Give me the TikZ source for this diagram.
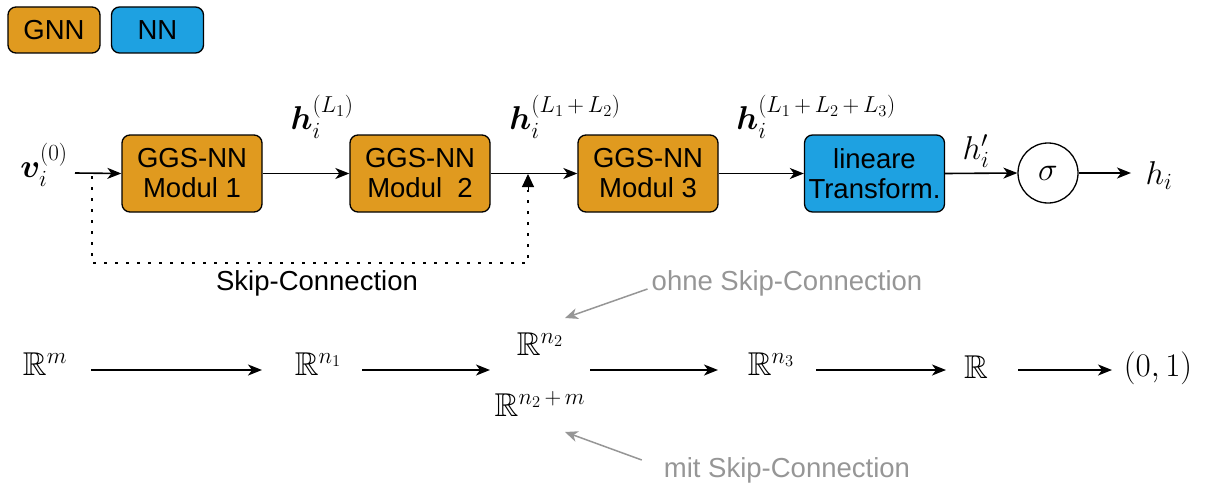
\RequirePackage{fix-cm}
\documentclass[tikz,border=0pt]{standalone}
\usepackage{amsmath,amssymb,bm}
\usepackage{fontspec}
\setsansfont{Liberation Sans}
\usetikzlibrary{arrows.meta}

\definecolor{gnnorange}{RGB}{224,154,31}
\definecolor{nnblue}{RGB}{30,161,225}
\definecolor{notegray}{RGB}{150,150,150}

% binary plus with visible spacing inside superscripts
\newcommand{\splus}{\mskip3mu+\mskip3mu}

\tikzset{
  block/.style={draw=black, line width=1.3pt, rounded corners=8pt,
    minimum width=140pt, minimum height=77pt, align=center, inner sep=0pt,
    font=\sffamily\fontsize{27.5}{30}\selectfont},
  gnnbox/.style={block, fill=gnnorange},
  nnbox/.style={block, fill=nnblue},
  legendbox/.style={minimum width=92pt, minimum height=46pt},
  mathlbl/.style={inner sep=0pt, font=\fontsize{33}{37}\selectfont},
  txt/.style={inner sep=0pt, font=\sffamily\fontsize{27.5}{30}\selectfont},
  note/.style={txt, text=notegray},
  arr/.style={line width=1.6pt, -{Stealth[length=14pt,width=11pt,inset=4pt]}},
  notearr/.style={draw=notegray, line width=1.5pt, -{Stealth[length=13pt,width=11pt,inset=4pt]}},
  skipline/.style={line width=2.6pt, dash pattern=on 2.6pt off 8.4pt},
}

\begin{document}
\begin{tikzpicture}[x=1pt, y=-1pt]
\useasboundingbox (0,0) rectangle (1206,487);

% legend
\node[gnnbox, legendbox] (lgnn) at (54,30) {GNN};
\node[nnbox, legendbox] (lnn) at (157.5,30) {NN};

% processing chain
\node[gnnbox] (m1) at (192,173.5) {GGS-NN\\Modul 1};
\node[gnnbox] (m2) at (420,173.5) {GGS-NN\\Modul\ \ 2};
\node[gnnbox] (m3) at (648,173.5) {GGS-NN\\Modul 3};
\node[nnbox] (lt) at (874.5,173.5) {lineare\\Transform.};
\node[draw=black, line width=1.3pt, circle, minimum size=60pt, inner sep=0pt,
      font=\fontsize{33}{37}\selectfont] (sig) at (1048,173) {$\sigma$};

\node[mathlbl] (v0) at (44,165) {$\bm{v}_i^{(0)}$};
\node[mathlbl] (h1) at (322,117) {$\bm{h}_i^{(L_1)}$};
\node[mathlbl] (h2) at (565,117) {$\bm{h}_i^{(L_1\splus L_2)}$};
\node[mathlbl] (h3) at (816,117) {$\bm{h}_i^{(L_1\splus L_2\splus L_3)}$};
\node[mathlbl] (hp) at (976,151) {$h_i'$};
\node[mathlbl] (hout) at (1159,176) {$h_i$};

\coordinate (cin) at (75,173);
\coordinate (cout) at (1131,173);

\draw[arr] (cin) -- (m1.west);
\draw[arr] (m1.east) -- (m2.west);
\draw[arr] (m2.east) -- (m3.west);
\draw[arr] (m3.east) -- (lt.west);
\draw[arr] (lt.east) -- (sig.west);
\draw[arr] (sig.east) -- (cout);

% skip connection
\coordinate (sks) at (92,176);
\coordinate (skb) at (92,263);
\coordinate (ske) at (528,263);
\coordinate (skt) at (528,190);
\coordinate (skh) at (528,174);
\draw[skipline] (sks) -- (skb) -- (ske) -- (skt);
\draw[line width=1pt, -{Triangle[length=13pt,width=12pt]}] (skt) -- (skh);
\node[txt] (skip) at (317,283) {Skip-Connection};

% dimensions row
\node[mathlbl] (rm) at (45,364) {$\mathbb{R}^m$};
\node[mathlbl] (rn1) at (318,364) {$\mathbb{R}^{n_1}$};
\node[mathlbl] (rn2) at (540,344) {$\mathbb{R}^{n_2}$};
\node[mathlbl] (rn2m) at (540,404) {$\mathbb{R}^{n_2\splus m}$};
\node[mathlbl] (rn3) at (771,364) {$\mathbb{R}^{n_3}$};
\node[mathlbl] (r) at (976,367) {$\mathbb{R}$};
\node[mathlbl] (r01) at (1158,368) {$(0,1)$};

\coordinate (a1s) at (91,370);  \coordinate (a1e) at (262,370);
\coordinate (a2s) at (362,370); \coordinate (a2e) at (490,370);
\coordinate (a3s) at (590,370); \coordinate (a3e) at (718,370);
\coordinate (a4s) at (816,370); \coordinate (a4e) at (946,370);
\coordinate (a5s) at (1018,370); \coordinate (a5e) at (1112,370);
\draw[arr] (a1s) -- (a1e);
\draw[arr] (a2s) -- (a2e);
\draw[arr] (a3s) -- (a3e);
\draw[arr] (a4s) -- (a4e);
\draw[arr] (a5s) -- (a5e);

% notes on the two variants
\node[note] (ohne) at (787,283) {ohne Skip-Connection};
\node[note] (mit) at (787,470) {mit Skip-Connection};
\coordinate (ohnetip) at (565,318);
\coordinate (mittip) at (565,432);
\draw[notearr] ([xshift=-4pt,yshift=-6pt]ohne.west) -- (ohnetip);
\draw[notearr] ([xshift=-22pt,yshift=10pt]mit.west) -- (mittip);
\end{tikzpicture}
\end{document}
